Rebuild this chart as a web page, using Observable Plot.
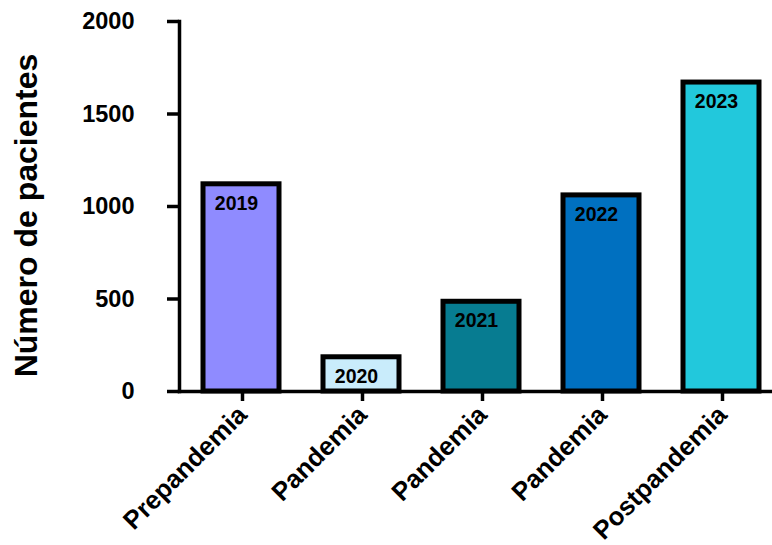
<!DOCTYPE html>
<html>
<head>
<meta charset="utf-8">
<script src="https://cdn.jsdelivr.net/npm/d3@7"></script>
<script src="https://cdn.jsdelivr.net/npm/@observablehq/plot@0.6"></script>
<style>
  html, body { margin: 0; padding: 0; background: #ffffff; }
  #chart { width: 772px; height: 545px; }
</style>
</head>
<body>
<div id="chart"></div>
<script>
// Patients per year, grouped by pandemic phase
const years = ["2019", "2020", "2021", "2022", "2023"];
const phases = ["Prepandemia", "Pandemia", "Pandemia", "Pandemia", "Postpandemia"];
const patients = [1120, 185, 485, 1060, 1670];
const barColors = ["#8f8bff", "#c9ecfb", "#077c91", "#0070c0", "#22c8dc"];
const yTicks = [0, 500, 1000, 1500, 2000];
const yTitle = "Número de pacientes";

const rows = years.map((year, i) => ({year, phase: phases[i], patients: patients[i]}));
const phaseOf = (year) => phases[years.indexOf(year)];

const chart = Plot.plot({
  width: 772,
  height: 545,
  marginTop: 21,
  marginBottom: 154,
  marginLeft: 179,
  marginRight: 0,
  style: {
    fontFamily: "'Liberation Sans', Arial, sans-serif",
    color: "black",
    background: "white",
    overflow: "visible"
  },
  x: {domain: years, paddingInner: 0.367, paddingOuter: 0.134, align: 0.65},
  y: {domain: [0, 2000]},
  color: {domain: years, range: barColors},
  marks: [
    Plot.barY(rows, {x: "year", y: "patients", fill: "year", stroke: "black", strokeWidth: 5}),
    Plot.text(rows, {
      x: "year", y: "patients", text: "year",
      dy: 19, dx: -5, fontSize: 19.5, fontWeight: "bold", fill: "black"
    }),
    Plot.frame({anchor: "left", strokeWidth: 3.5}),
    Plot.frame({anchor: "bottom", strokeWidth: 3.5}),
    Plot.axisY({
      ticks: yTicks, tickSize: 12, tickPadding: 33, fontSize: 23.5, fontWeight: "bold",
      strokeWidth: 3.5, label: null, tickFormat: (d) => String(d)
    }),
    Plot.axisX({
      tickSize: 10, tickPadding: 9, tickRotate: -45, fontSize: 25.8,
      fontWeight: "bold", strokeWidth: 3.5, dx: 1,
      label: null, tickFormat: phaseOf
    }),
    Plot.text([yTitle], {
      text: (d) => d, frameAnchor: "left", textAnchor: "middle", rotate: -90,
      dx: -153, dy: 9, fontSize: 32, fontWeight: "bold", fill: "black"
    })
  ]
});

document.getElementById("chart").appendChild(chart);
</script>
</body>
</html>
